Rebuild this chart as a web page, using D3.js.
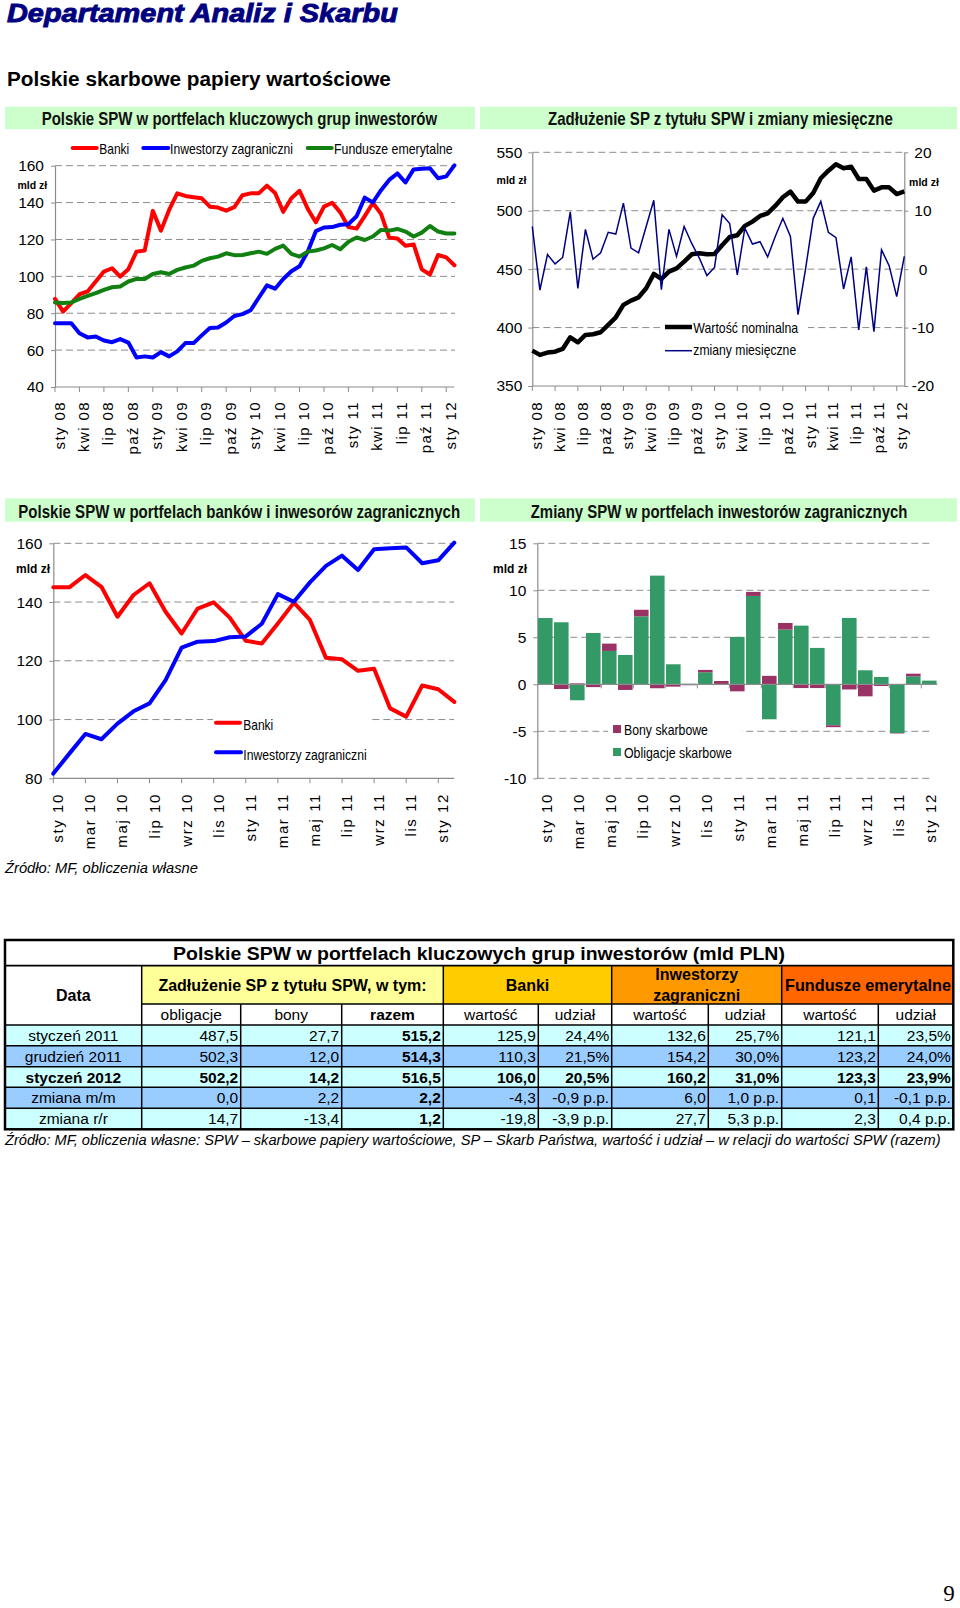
<!DOCTYPE html>
<html><head><meta charset="utf-8">
<script src="https://cdn.jsdelivr.net/npm/d3@7/dist/d3.min.js"></script>
<style>body{margin:0;background:#fff}svg{display:block}</style>
</head><body>
<svg id="page" width="960" height="1608"></svg>
<script>
// ---------------- DATA ----------------
const monthNames = ["sty","lut","mar","kwi","maj","cze","lip","sie","wrz","paź","lis","gru"];
const months50 = [];
for (let y = 8; y <= 12; y++) for (let m = 0; m < 12; m++) { if (months50.length < 50) months50.push(monthNames[m] + " " + String(y).padStart(2, "0")); }
const months26 = months50.slice(24);           // sty 10 .. lut 12
const months25 = months50.slice(24, 49);       // sty 10 .. sty 12 (bars)

const ticksLong  = ["sty 08","kwi 08","lip 08","paź 08","sty 09","kwi 09","lip 09","paź 09","sty 10","kwi 10","lip 10","paź 10","sty 11","kwi 11","lip 11","paź 11","sty 12"];
const ticksShort = ["sty 10","mar 10","maj 10","lip 10","wrz 10","lis 10","sty 11","mar 11","maj 11","lip 11","wrz 11","lis 11","sty 12"];

const banki = [87.8,80.9,85.5,90.3,91.8,97.2,102.6,104.4,99.9,103.9,113.4,114,135.5,124.8,136,145,143.6,142.9,142.3,137.8,137.3,135.6,137.5,144,
  145,145,149.2,145.2,135,142.4,146.4,136.7,129.3,137.8,139.9,134.7,126.8,125.9,132.7,139.8,133.9,121,120.5,116.6,117.3,103.8,101,111.6,110.3,106.0];
const inwestorzy = [74.6,74.6,74.6,69.2,66.9,67.4,65.2,64.3,66,64.1,56,56.6,56,58.9,56.6,59.3,63.8,63.8,68,72,72.3,75,78.5,79.5,
  81.6,88.4,95.1,93.3,98.6,102.8,105.5,113.4,124.5,126.5,126.7,128,128.3,132.6,142.7,140.1,146.7,152.3,155.8,150.9,158,158.3,158.6,153.2,154.2,160.2];
const fundusze = [85.8,85.5,85.8,87.8,89.4,90.9,92.7,94.1,94.5,97.2,98.6,98.6,101.3,102.2,101.3,103.5,104.8,105.8,108.4,109.8,110.7,112.5,111.5,111.6,
  112.5,113.4,112.2,114.9,116.7,112.2,110.7,113.4,114,115.2,117,114.7,118.8,121.1,119.7,121.6,125.2,124.8,125.7,124.3,121.6,123.7,127.3,124.3,123.2,123.3];

const nominalna = [380.3,376.6,378.6,379.4,381.7,391.7,387.4,393.7,394.3,396,402.3,408.8,419.4,423.1,425.9,433.6,445.9,441.6,447.9,450.7,456.4,462.7,463.6,462.7,
  463,470.5,477.5,479,487,490.7,495.5,497.8,504.1,511.5,516.3,507.8,507.8,515.2,527.8,534.3,539.7,536.3,537.7,527.2,527.2,517.2,520,520,514.3,516.5];
const zmiany = [7.3,-3.6,2.5,0.9,2,9.8,-3.3,6.8,1.7,2.8,6.3,6,11.3,3.6,2.8,7.3,11.8,-3.5,6.8,2.2,7.3,4.4,1.9,-1.1,
  0.3,9.3,7.8,-1,7,4.3,4.7,2.1,5.6,8.7,5.6,-7.8,0.1,8.7,11.6,6.3,5.4,-3.4,2.1,-10.4,0.4,-10.7,3.3,0.6,-4.7,2.2];

const banki2 = banki.slice(24);
const inwestorzy2 = inwestorzy.slice(24);

const obligacje = [7.05,6.6,-1.7,5.46,3.55,3.12,7.23,11.56,2.13,0.05,1.28,0,5.04,9.4,-3.72,5.82,6.24,3.87,-4.36,7.06,1.49,0.78,-5.18,0.85,0.39];
const bony      = [0,-0.5,0.1,-0.3,0.78,-0.6,0.7,-0.42,-0.25,-0.1,0.25,0.35,-0.75,0.43,0.9,0.7,-0.4,-0.4,-0.2,-0.55,-1.28,-0.18,-0.05,0.28,0];

// table
const tableRows  = ["styczeń 2011","grudzień 2011","styczeń 2012","zmiana m/m","zmiana r/r"];
const colObl     = ["487,5","502,3","502,2","0,0","14,7"];
const colBony    = ["27,7","12,0","14,2","2,2","-13,4"];
const colRazem   = ["515,2","514,3","516,5","2,2","1,2"];
const colBankW   = ["125,9","110,3","106,0","-4,3","-19,8"];
const colBankU   = ["24,4%","21,5%","20,5%","-0,9 p.p.","-3,9 p.p."];
const colInwW    = ["132,6","154,2","160,2","6,0","27,7"];
const colInwU    = ["25,7%","30,0%","31,0%","1,0 p.p.","5,3 p.p."];
const colFundW   = ["121,1","123,2","123,3","0,1","2,3"];
const colFundU   = ["23,5%","24,0%","23,9%","-0,1 p.p.","0,4 p.p."];
const subHeaders = ["obligacje","bony","razem","wartość","udział","wartość","udział","wartość","udział"];

// ---------------- STYLE ----------------
const svg = d3.select("#page");
const FONT = "'Liberation Sans', Arial, Helvetica, sans-serif";
const AX = "#8c8c8c", GRID = "#8c8c8c";
const RED = "#ff0000", BLUE = "#0000ff", GREEN = "#118011", NAVY = "#000080";
const C_OBL = "#339966", C_BONY = "#993366";
const fmt = d => String(d);

svg.append("rect").attr("width", 960).attr("height", 1608).attr("fill", "#fff");

// text squeezed horizontally to a target width (emulates the narrow fonts of the original)
function fitted(parent, x, y, txt, target, opts) {
  const o = Object.assign({ size: 14, weight: "normal", style: "normal", fill: "#000", anchor: "start", family: FONT }, opts || {});
  const g = parent.append("g");
  const t = g.append("text").attr("x", 0).attr("y", 0).text(txt)
    .attr("font-family", o.family).attr("font-size", o.size).attr("font-weight", o.weight)
    .attr("font-style", o.style).attr("fill", o.fill).attr("text-anchor", o.anchor);
  if (o.stroke) t.attr("stroke", o.stroke).attr("stroke-width", o.strokeWidth);
  const w = t.node().getComputedTextLength();
  const sx = w > 0 ? target / w : 1;
  g.attr("transform", `translate(${x},${y}) scale(${sx},1)`);
  return g;
}

// header
fitted(svg, 7, 22, "Departament Analiz i Skarbu", 391,
  { size: 25, weight: "bold", style: "italic", fill: NAVY, stroke: NAVY, strokeWidth: 0.9 });
fitted(svg, 7, 86, "Polskie skarbowe papiery wartościowe", 384, { size: 19.5, weight: "bold" });

function titleBar(x0, x1, y0, y1, txt, tx, base, len) {
  svg.append("rect").attr("x", x0).attr("y", y0).attr("width", x1 - x0).attr("height", y1 - y0).attr("fill", "#ccffcc");
  fitted(svg, tx, base, txt, len, { size: 18, weight: "bold", fill: "#111" });
}
titleBar(5, 475, 106.7, 129.3, "Polskie SPW w portfelach kluczowych grup inwestorów", 41.7, 125, 396);
titleBar(480, 957, 106.7, 129.3, "Zadłużenie SP z tytułu SPW i zmiany miesięczne", 548, 125, 345);
titleBar(5, 475, 498.3, 521.7, "Polskie SPW w portfelach banków i inwesorów zagranicznych", 18.3, 517.5, 442);
titleBar(480, 957, 498.3, 521.7, "Zmiany SPW w portfelach inwestorów zagranicznych", 530.7, 517.5, 377);

function styleAxis(g) {
  g.select(".domain").attr("stroke", AX).attr("stroke-width", 1.2);
  g.selectAll(".tick line").attr("stroke", AX).attr("stroke-width", 1);
  g.selectAll(".tick text").attr("font-family", FONT).attr("font-size", 15.5).attr("fill", "#000");
  g.attr("font-family", null).attr("font-size", null);
}
function grid(g, vals, y, xa, xb) {
  g.selectAll(null).data(vals).join("line").attr("x1", xa).attr("x2", xb)
    .attr("y1", d => y(d)).attr("y2", d => y(d)).attr("stroke", GRID).attr("stroke-width", 1).attr("stroke-dasharray", "7,4");
}
function xLabels(g, xs, labels, axisY, top, dy, spacing) {
  g.selectAll(null).data(xs).join("line").attr("x1", d => d).attr("x2", d => d).attr("y1", axisY).attr("y2", axisY + 5)
    .attr("stroke", AX).attr("stroke-width", 1);
  g.selectAll(null).data(labels).join("text")
    .attr("transform", (d, i) => `translate(${xs[i] + dy},${top}) rotate(-90)`)
    .attr("text-anchor", "end").attr("font-family", FONT).attr("font-size", 15).attr("letter-spacing", spacing)
    .attr("fill", "#000").text(d => d);
}
function mld(x, y, size) {
  svg.append("text").attr("x", x).attr("y", y).attr("text-anchor", "middle").text("mld zł")
    .attr("font-family", FONT).attr("font-weight", "bold").attr("font-size", size).attr("fill", "#000");
}
function legendText(g, x, y, t, len) {
  fitted(g, x, y, t, len, { size: 14 });
}

// ---------------- CHART 1 ----------------
{
  const g = svg.append("g");
  const x = d3.scalePoint().domain(months50).range([55, 454.4]);
  const y = d3.scaleLinear().domain([40, 160]).range([387, 165.7]);
  grid(g, [60, 80, 100, 120, 140, 160], y, 55, 455);
  const ay = g.append("g").attr("transform", "translate(55,0)")
    .call(d3.axisLeft(y).tickValues([40, 60, 80, 100, 120, 140, 160]).tickFormat(fmt).tickSize(4).tickPadding(7).tickSizeOuter(0));
  styleAxis(ay);
  g.append("line").attr("x1", 55).attr("x2", 454.4).attr("y1", 387).attr("y2", 387).attr("stroke", AX).attr("stroke-width", 1.2);
  const tickCats = months50.filter((d, i) => i % 3 === 0);
  xLabels(g, tickCats.map(d => x(d)), ticksLong, 387, 401, 9.5, 1.4);
  const line = d3.line().x((d, i) => x(months50[i])).y(d => y(d)).curve(d3.curveLinear);
  [[banki, RED], [inwestorzy, BLUE], [fundusze, GREEN]].forEach(([s, c]) => {
    g.append("path").datum(s).attr("d", line).attr("fill", "none").attr("stroke", c).attr("stroke-width", 4)
      .attr("stroke-linejoin", "round").attr("stroke-linecap", "round");
  });
  mld(32.4, 189, 10.5);
  // legend
  const lg = g.append("g");
  [[72.7, 96.7, RED, 99.3, "Banki", 30], [143.3, 168.3, BLUE, 170, "Inwestorzy zagraniczni", 123], [307.7, 331.7, GREEN, 334, "Fundusze emerytalne", 118.7]]
    .forEach(([a, b, c, tx, t, len]) => {
      lg.append("line").attr("x1", a).attr("x2", b).attr("y1", 148).attr("y2", 148).attr("stroke", c).attr("stroke-width", 4).attr("stroke-linecap", "round");
      legendText(lg, tx, 153.5, t, len);
    });
}

// ---------------- CHART 2 ----------------
{
  const g = svg.append("g");
  const x = d3.scalePoint().domain(months50).range([532.3, 904.3]);
  const yL = d3.scaleLinear().domain([350, 550]).range([386, 152.3]);
  const yR = d3.scaleLinear().domain([-20, 20]).range([386, 152.3]);
  grid(g, [400, 450, 500, 550], yL, 532.3, 904.3);
  const al = g.append("g").attr("transform", "translate(532.3,0)")
    .call(d3.axisLeft(yL).tickValues([350, 400, 450, 500, 550]).tickFormat(fmt).tickSize(4).tickPadding(6).tickSizeOuter(0));
  styleAxis(al);
  const ar = g.append("g").attr("transform", "translate(904.3,0)")
    .call(d3.axisRight(yR).tickValues([-20, -10, 0, 10, 20]).tickFormat(fmt).tickSize(4).tickSizeOuter(0));
  styleAxis(ar);
  ar.selectAll(".tick text").attr("x", 18.7).attr("text-anchor", "middle");
  g.append("line").attr("x1", 532.3).attr("x2", 904.3).attr("y1", 386).attr("y2", 386).attr("stroke", AX).attr("stroke-width", 1.2);
  const tickCats = months50.filter((d, i) => i % 3 === 0);
  xLabels(g, tickCats.map(d => x(d)), ticksLong, 386, 401, 10, 1.4);
  // legend box
  g.append("rect").attr("x", 660).attr("y", 315).attr("width", 148).attr("height", 48).attr("fill", "#fff");
  g.append("path").datum(nominalna).attr("d", d3.line().x((d, i) => x(months50[i])).y(d => yL(d)))
    .attr("fill", "none").attr("stroke", "#000").attr("stroke-width", 4.5).attr("stroke-linejoin", "round");
  g.append("path").datum(zmiany).attr("d", d3.line().x((d, i) => x(months50[i])).y(d => yR(d)))
    .attr("fill", "none").attr("stroke", NAVY).attr("stroke-width", 1.5).attr("stroke-linejoin", "miter");
  mld(511.5, 184, 10.5);
  mld(924, 185.5, 10.5);
  g.append("line").attr("x1", 665).attr("x2", 692).attr("y1", 327).attr("y2", 327).attr("stroke", "#000").attr("stroke-width", 4.5);
  g.append("line").attr("x1", 665).attr("x2", 692).attr("y1", 350.7).attr("y2", 350.7).attr("stroke", NAVY).attr("stroke-width", 1.5);
  legendText(g, 693.3, 333, "Wartość nominalna", 105);
  legendText(g, 693.3, 355, "zmiany miesięczne", 103);
}

// ---------------- CHART 3 ----------------
{
  const g = svg.append("g");
  const x = d3.scalePoint().domain(months26).range([53.3, 454.3]);
  const y = d3.scaleLinear().domain([80, 160]).range([778.3, 543.3]);
  grid(g, [100, 120, 140, 160], y, 53.3, 454);
  const ay = g.append("g").attr("transform", "translate(53.3,0)")
    .call(d3.axisLeft(y).tickValues([80, 100, 120, 140, 160]).tickFormat(fmt).tickSize(4).tickPadding(7).tickSizeOuter(0));
  styleAxis(ay);
  g.append("line").attr("x1", 53.3).attr("x2", 454.3).attr("y1", 778.3).attr("y2", 778.3).attr("stroke", AX).attr("stroke-width", 1.2);
  const tickCats = months26.filter((d, i) => i % 2 === 0 && i < 25);
  xLabels(g, tickCats.map(d => x(d)), ticksShort, 778.3, 793, 10, 1.6);
  g.append("rect").attr("x", 213).attr("y", 705).attr("width", 157).attr("height", 62).attr("fill", "#fff");
  const line = d3.line().x((d, i) => x(months26[i])).y(d => y(d));
  [[banki2, RED], [inwestorzy2, BLUE]].forEach(([s, c]) => {
    g.append("path").datum(s).attr("d", line).attr("fill", "none").attr("stroke", c).attr("stroke-width", 4)
      .attr("stroke-linejoin", "round").attr("stroke-linecap", "round");
  });
  mld(33, 572.5, 12);
  g.append("line").attr("x1", 216).attr("x2", 240).attr("y1", 722.7).attr("y2", 722.7).attr("stroke", RED).attr("stroke-width", 4).attr("stroke-linecap", "round");
  g.append("line").attr("x1", 216).attr("x2", 241).attr("y1", 752.3).attr("y2", 752.3).attr("stroke", BLUE).attr("stroke-width", 4).attr("stroke-linecap", "round");
  legendText(g, 243.3, 730, "Banki", 30);
  legendText(g, 243.3, 760, "Inwestorzy zagraniczni", 123.4);
  fitted(svg, 5, 873, "Źródło: MF, obliczenia własne", 193, { size: 15, style: "italic" });
}

// ---------------- CHART 4 ----------------
{
  const g = svg.append("g");
  const x = d3.scaleBand().domain(months25).range([537.3, 937.3]).paddingInner(0.09).paddingOuter(0.045);
  const y = d3.scaleLinear().domain([-10, 15]).range([778.3, 543.3]);
  grid(g, [-10, -5, 5, 10, 15], y, 537.3, 930);
  const ay = g.append("g").attr("transform", "translate(537.3,0)")
    .call(d3.axisLeft(y).tickValues([-10, -5, 0, 5, 10, 15]).tickFormat(fmt).tickSize(4).tickPadding(7).tickSizeOuter(0));
  styleAxis(ay);
  // legend box
  g.append("rect").attr("x", 608).attr("y", 720).attr("width", 134).attr("height", 42).attr("fill", "#fff");
  const rows = months25.map((m, i) => ({ m, obligacje: obligacje[i], bony: bony[i] }));
  const stack = d3.stack().keys(["obligacje", "bony"]).offset(d3.stackOffsetDiverging)(rows);
  const colors = { obligacje: C_OBL, bony: C_BONY };
  stack.forEach(layer => {
    g.selectAll(null).data(layer).join("rect")
      .attr("x", d => x(d.data.m)).attr("width", x.bandwidth())
      .attr("y", d => y(Math.max(d[0], d[1]))).attr("height", d => Math.abs(y(d[0]) - y(d[1])))
      .attr("fill", colors[layer.key]);
  });
  // zero axis with ticks every 2 categories
  g.append("line").attr("x1", 537.3).attr("x2", 937.3).attr("y1", y(0)).attr("y2", y(0)).attr("stroke", AX).attr("stroke-width", 1.2);
  const tb = d3.range(2, 26, 2).map(k => 537.3 + k * x.step());
  g.selectAll(null).data(tb).join("line").attr("x1", d => d).attr("x2", d => d).attr("y1", y(0)).attr("y2", y(0) + 4)
    .attr("stroke", AX).attr("stroke-width", 1);
  const labCats = months25.filter((d, i) => i % 2 === 0);
  g.selectAll(null).data(ticksShort).join("text")
    .attr("transform", (d, i) => `translate(${x(labCats[i]) + x.bandwidth() / 2 + 7},793) rotate(-90)`)
    .attr("text-anchor", "end").attr("font-family", FONT).attr("font-size", 15).attr("letter-spacing", 1.6)
    .attr("fill", "#000").text(d => d);
  mld(510, 572.5, 12);
  g.append("rect").attr("x", 613).attr("y", 725).attr("width", 8).attr("height", 8).attr("fill", C_BONY);
  g.append("rect").attr("x", 613).attr("y", 748).attr("width", 8).attr("height", 8).attr("fill", C_OBL);
  legendText(g, 624, 735, "Bony skarbowe", 84);
  legendText(g, 624, 758, "Obligacje skarbowe", 108);
}

// ---------------- TABLE ----------------
{
  const g = svg.append("g");
  const cx = [5, 141.7, 240.7, 341.7, 443.3, 538.3, 611.7, 708.3, 781.7, 878.3, 953.3];
  const ry = [940, 965.7, 1004, 1025, 1045.7, 1066.7, 1087.3, 1108.3, 1129.3];
  const rect = (x0, x1, y0, y1, f) => g.append("rect").attr("x", x0).attr("y", y0).attr("width", x1 - x0).attr("height", y1 - y0).attr("fill", f);
  rect(cx[0], cx[10], ry[0], ry[3], "#fff");
  rect(cx[1], cx[4], ry[1], ry[2], "#ffff99");
  rect(cx[4], cx[6], ry[1], ry[2], "#ffcc00");
  rect(cx[6], cx[8], ry[1], ry[2], "#ff9900");
  rect(cx[8], cx[10], ry[1], ry[2], "#ff6600");
  tableRows.forEach((r, i) => rect(cx[0], cx[10], ry[3 + i], ry[4 + i], i % 2 === 0 ? "#ccffff" : "#99ccff"));
  const L = (x1, y1, x2, y2, w) => g.append("line").attr("x1", x1).attr("y1", y1).attr("x2", x2).attr("y2", y2).attr("stroke", "#000").attr("stroke-width", w);
  L(cx[0], ry[1], cx[10], ry[1], 1.8);
  L(cx[1], ry[2], cx[10], ry[2], 1.5);
  for (let k = 3; k < 8; k++) L(cx[0], ry[k], cx[10], ry[k], 1.5);
  [1, 4, 6, 8].forEach(k => L(cx[k], ry[1], cx[k], ry[8], 1.5));
  [2, 3, 5, 7, 9].forEach(k => L(cx[k], ry[2], cx[k], ry[8], 1.5));
  g.append("rect").attr("x", cx[0]).attr("y", ry[0]).attr("width", cx[10] - cx[0]).attr("height", ry[8] - ry[0])
    .attr("fill", "none").attr("stroke", "#000").attr("stroke-width", 2.5);
  const T = (x, y, t, anchor, bold, size) => g.append("text").attr("x", x).attr("y", y).text(t).attr("text-anchor", anchor)
      .attr("font-family", FONT).attr("font-size", size || 15.5).attr("font-weight", bold ? "bold" : "normal").attr("fill", "#000");
  fitted(g, 173, 959.5, "Polskie SPW w portfelach kluczowych grup inwestorów (mld PLN)", 612, { size: 18.5, weight: "bold" });
  T((cx[0] + cx[1]) / 2, 1001, "Data", "middle", true, 16);
  T((cx[1] + cx[4]) / 2, 990.5, "Zadłużenie SP z tytułu SPW, w tym:", "middle", true, 16);
  T((cx[4] + cx[6]) / 2, 990.5, "Banki", "middle", true, 16);
  T((cx[6] + cx[8]) / 2, 979.5, "Inwestorzy", "middle", true, 16);
  T((cx[6] + cx[8]) / 2, 1000.5, "zagraniczni", "middle", true, 16);
  fitted(g, 785, 990.5, "Fundusze emerytalne", 166, { size: 16, weight: "bold" });
  subHeaders.forEach((s, i) => T((cx[i + 1] + cx[i + 2]) / 2, 1020, s, "middle", s === "razem", 15.5));
  const cols = [colObl, colBony, colRazem, colBankW, colBankU, colInwW, colInwU, colFundW, colFundU];
  tableRows.forEach((r, i) => {
    const base = (ry[3 + i] + ry[4 + i]) / 2 + 5.6;
    const boldRow = i === 2;
    T((cx[0] + cx[1]) / 2, base, r, "middle", boldRow, 15.5);
    cols.forEach((c, j) => T(cx[j + 2] - 2.5, base, c[i], "end", boldRow || j === 2, 15.5));
  });
  fitted(svg, 5, 1144.5,
    "Źródło: MF, obliczenia własne: SPW – skarbowe papiery wartościowe, SP – Skarb Państwa, wartość i udział – w relacji do wartości SPW (razem)",
    936, { size: 15, style: "italic" });
}

// page number
svg.append("text").attr("x", 949).attr("y", 1601).attr("text-anchor", "middle").text("9")
  .attr("font-family", "'Liberation Serif','Times New Roman',serif").attr("font-size", 23).attr("fill", "#000");
</script>
</body></html>
